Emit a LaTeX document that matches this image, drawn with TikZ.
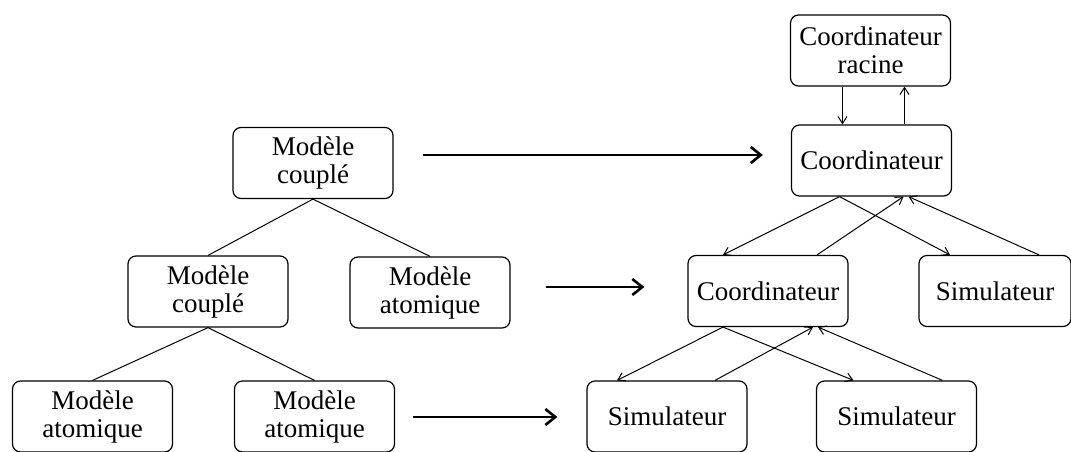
\documentclass[tikz,border=0pt]{standalone}
\usepackage{fontspec}
\setmainfont{Liberation Serif}
\usetikzlibrary{arrows.meta, calc}

\begin{document}
\begin{tikzpicture}[x=0.5pt, y=-0.5pt,
      b/.style={draw, rounded corners=4pt, line width=0.6pt, font=\fontsize{13.5}{14}\selectfont, minimum width=80pt, minimum height=35.5pt, align=center, inner sep=0pt},
      big/.style={line width=1.3pt, -{Straight Barb[length=5pt, width=8pt]}},
      sm/.style={line width=0.5pt, -{Straight Barb[length=3.5pt, width=4.5pt]}}]
    \useasboundingbox (0,0) rectangle (1071,451);
    % modeles
    \node[b] (mc1) at (313,163) {Modèle\\couplé};
    \node[b] (mc2) at (208,291.5) {Modèle\\couplé};
    \node[b] (ma1) at (430,292.5) {Modèle\\atomique};
    \node[b] (ma2) at (92.5,416.5) {Modèle\\atomique};
    \node[b] (ma3) at (314.5,416.5) {Modèle\\atomique};
    \draw[line width=0.5pt] (mc1.south) -- (mc2.north); \draw[line width=0.5pt] (mc1.south) -- (ma1.north);
    \draw[line width=0.5pt] (mc2.south) -- (ma2.north); \draw[line width=0.5pt] (mc2.south) -- (ma3.north);
    % simulateurs
    \node[b] (rac) at (870.5,50.5) {Coordinateur\\racine};
    \node[b] (co1) at (871.5,160.5) {Coordinateur};
    \node[b] (co2) at (768,291) {Coordinateur};
    \node[b, minimum width=76pt] (sim1) at (995,291) {Simulateur};
    \node[b] (sim2) at (667,416.5) {Simulateur};
    \node[b] (sim3) at (896.5,416.5) {Simulateur};
    \coordinate (rd) at ($(rac.south)+(-28,0)$);
    \coordinate (ru) at ($(rac.south)+(34,0)$);
    \draw[sm] (rd) -- (rd |- co1.north);
    \draw[sm] (ru |- co1.north) -- (ru);
    \draw[sm] ($(co1.south)+(-32,0)$) -- ($(co2.north)+(-45,0)$);
    \draw[sm] ($(co1.south)+(-32,0)$) -- ($(sim1.north)+(-45,0)$);
    \draw[sm] ($(co2.north)+(49,0)$) -- ($(co1.south)+(32,0)$);
    \draw[sm] ($(sim1.north)+(44,0)$) -- ($(co1.south)+(37,0)$);
    \draw[sm] ($(co2.south)+(-45,0)$) -- ($(sim2.north)+(-50,0)$);
    \draw[sm] ($(co2.south)+(-45,0)$) -- ($(sim3.north)+(-43,0)$);
    \draw[sm] ($(sim2.north)+(48,0)$) -- ($(co2.south)+(45,0)$);
    \draw[sm] ($(sim3.north)+(46,0)$) -- ($(co2.south)+(50,0)$);
    % correspondance
    \draw[big] ($(mc1.east)+(29,-8)$) -- ($(co1.west)+(-28,-5.5)$);
    \draw[big] ($(ma1.east)+(35,-5.5)$) -- ($(co2.west)+(-43,-4)$);
    \draw[big] ($(ma3.east)+(17.5,0.5)$) -- ($(sim2.west)+(-29,0.5)$);
  \end{tikzpicture}
\end{document}
